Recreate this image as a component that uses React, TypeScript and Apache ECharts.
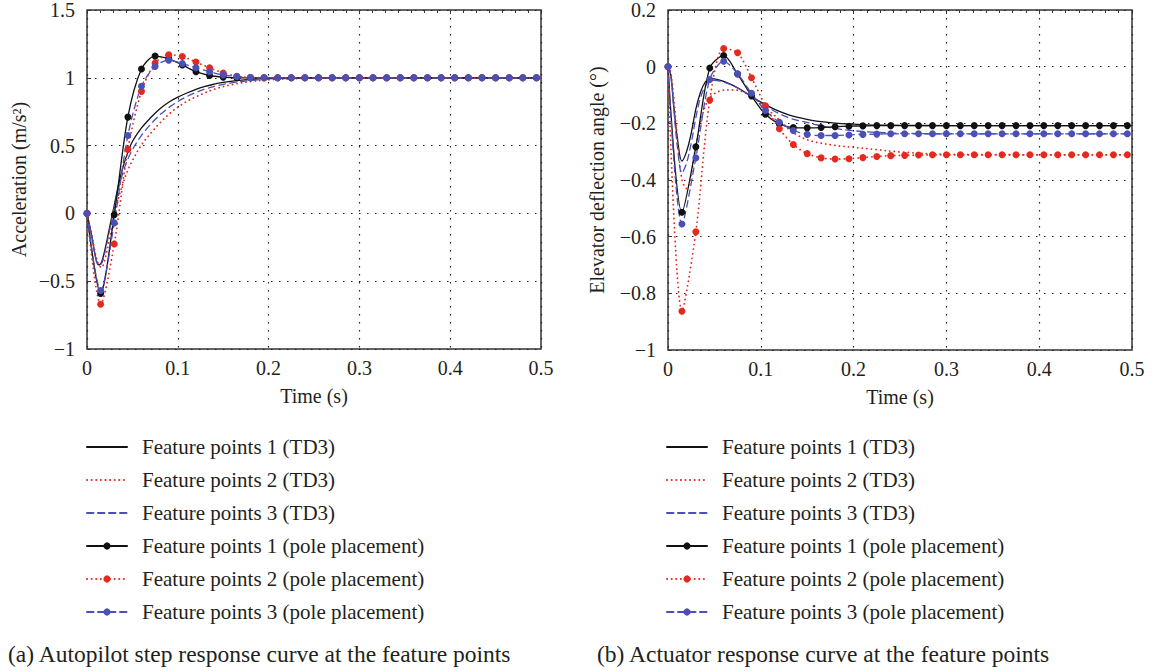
import React, { useEffect, useRef } from "react";
import * as echarts from "echarts";

// ---------- data ----------
const LEGEND_NAMES = [
  "Feature points 1 (TD3)",
  "Feature points 2 (TD3)",
  "Feature points 3 (TD3)",
  "Feature points 1 (pole placement)",
  "Feature points 2 (pole placement)",
  "Feature points 3 (pole placement)",
];

// marker sample times (s)
const T_MARK = [
  0, 0.015, 0.03, 0.045, 0.06, 0.075, 0.09, 0.105, 0.12, 0.135, 0.15, 0.165,
  0.18, 0.195, 0.21, 0.225, 0.24, 0.255, 0.27, 0.285, 0.3, 0.315, 0.33, 0.345,
  0.36, 0.375, 0.39, 0.405, 0.42, 0.435, 0.45, 0.465, 0.48, 0.495,
];

// (a) acceleration, pole placement
const ACC_POLE_1 = [
  0, -0.59, -0.01, 0.71, 1.065, 1.16, 1.14, 1.095, 1.045, 1.017, 1.005, 1.0,
  1, 1, 1, 1, 1, 1, 1, 1, 1, 1, 1, 1, 1, 1, 1, 1, 1, 1, 1, 1, 1, 1,
];
const ACC_POLE_2 = [
  0, -0.67, -0.225, 0.472, 0.9, 1.108, 1.169, 1.157, 1.116, 1.074, 1.036, 1.012,
  1.002, 1, 1, 1, 1, 1, 1, 1, 1, 1, 1, 1, 1, 1, 1, 1, 1, 1, 1, 1, 1, 1,
];
const ACC_POLE_3 = [
  0, -0.569, -0.07, 0.574, 0.937, 1.084, 1.13, 1.105, 1.074, 1.045, 1.021, 1.01,
  1.002, 1, 1, 1, 1, 1, 1, 1, 1, 1, 1, 1, 1, 1, 1, 1, 1, 1, 1, 1, 1, 1,
];

// (a) acceleration, TD3
const T_ACC = [
  0, 0.005, 0.01, 0.013, 0.016, 0.02, 0.025, 0.03, 0.035, 0.04, 0.045, 0.05,
  0.06, 0.07, 0.08, 0.09, 0.1, 0.11, 0.12, 0.13, 0.14, 0.15, 0.16, 0.18, 0.2,
  0.22, 0.25, 0.3, 0.4, 0.5,
];
const ACC_TD3_1 = [
  0, -0.16, -0.34, -0.38, -0.36, -0.26, -0.1, 0.06, 0.22, 0.35, 0.45, 0.53,
  0.63, 0.705, 0.77, 0.82, 0.857, 0.888, 0.915, 0.937, 0.953, 0.966, 0.976,
  0.988, 0.994, 0.997, 1, 1, 1, 1,
];
const ACC_TD3_2 = [
  0, -0.15, -0.32, -0.38, -0.4, -0.33, -0.18, -0.02, 0.12, 0.23, 0.32, 0.39,
  0.505, 0.59, 0.665, 0.73, 0.783, 0.826, 0.86, 0.89, 0.915, 0.935, 0.95,
  0.972, 0.985, 0.992, 0.998, 1, 1, 1,
];
const ACC_TD3_3 = [
  0, -0.16, -0.34, -0.38, -0.37, -0.28, -0.12, 0.04, 0.19, 0.31, 0.4, 0.47,
  0.575, 0.657, 0.725, 0.78, 0.825, 0.862, 0.892, 0.917, 0.936, 0.952, 0.964,
  0.98, 0.99, 0.995, 0.999, 1, 1, 1,
];

// (b) elevator deflection angle, pole placement
const ANG_POLE_1 = [
  0, -0.514, -0.283, -0.005, 0.039, -0.026, -0.103, -0.168, -0.202, -0.215,
  -0.216, -0.215, -0.212, -0.21, -0.209, -0.208, -0.208, -0.208, -0.208,
  -0.208, -0.208, -0.208, -0.208, -0.208, -0.208, -0.208, -0.208, -0.208,
  -0.208, -0.208, -0.208, -0.208, -0.208, -0.208,
];
const ANG_POLE_2 = [
  0, -0.863, -0.583, -0.118, 0.064, 0.049, -0.039, -0.138, -0.219, -0.275,
  -0.307, -0.322, -0.326, -0.325, -0.321, -0.317, -0.314, -0.313, -0.312,
  -0.311, -0.311, -0.311, -0.311, -0.311, -0.311, -0.311, -0.311, -0.311,
  -0.311, -0.311, -0.311, -0.311, -0.311, -0.311,
];
const ANG_POLE_3 = [
  0, -0.555, -0.322, -0.045, 0.019, -0.025, -0.094, -0.155, -0.196, -0.225,
  -0.239, -0.243, -0.243, -0.241, -0.239, -0.238, -0.237, -0.237, -0.237,
  -0.237, -0.237, -0.237, -0.237, -0.237, -0.237, -0.237, -0.237, -0.237,
  -0.237, -0.237, -0.237, -0.237, -0.237, -0.237,
];

// (b) elevator deflection angle, TD3
const T_ANG = [
  0, 0.003, 0.0065, 0.01, 0.015, 0.02, 0.025, 0.03, 0.035, 0.04, 0.045, 0.05,
  0.06, 0.07, 0.08, 0.09, 0.1, 0.11, 0.12, 0.13, 0.14, 0.15, 0.16, 0.18, 0.2,
  0.22, 0.25, 0.3, 0.4, 0.5,
];
const ANG_TD3_1 = [
  0, -0.03, -0.148, -0.25, -0.333, -0.3, -0.235, -0.15, -0.09, -0.055, -0.042,
  -0.043, -0.052, -0.066, -0.084, -0.105, -0.125, -0.143, -0.158, -0.17,
  -0.179, -0.186, -0.192, -0.199, -0.203, -0.206, -0.207, -0.208, -0.208,
  -0.208,
];
const ANG_TD3_2 = [
  0, -0.02, -0.12, -0.25, -0.4, -0.43, -0.38, -0.28, -0.2, -0.14, -0.11,
  -0.095, -0.083, -0.082, -0.088, -0.105, -0.13, -0.158, -0.188, -0.22,
  -0.243, -0.258, -0.267, -0.278, -0.285, -0.291, -0.301, -0.309, -0.311,
  -0.311,
];
const ANG_TD3_3 = [
  0, -0.03, -0.16, -0.28, -0.375, -0.34, -0.27, -0.18, -0.11, -0.07, -0.05,
  -0.048, -0.055, -0.067, -0.085, -0.105, -0.127, -0.148, -0.166, -0.18, -0.19,
  -0.197, -0.205, -0.218, -0.226, -0.231, -0.235, -0.237, -0.237, -0.237,
];

// ---------- styles ----------
const FONT = '"Liberation Serif", "Times New Roman", serif';
const TXT = "#231f20";
const BLACK = "#111111";
const RED = "#e42a1e";
const BLUE = "#4a50b8";
const FS_AXIS = 20;
const FS_LEG = 21;
const FS_CAP = 23.5;

const pairs = (t: number[], v: number[]) => t.map((x, i) => [x, v[i]]);
const fmt = (v: number) => {
  const r = Math.round(v * 10) / 10;
  return r < 0 ? "\u2212" + String(Math.abs(r)) : String(r);
};

export default function App() {
  const ref = useRef<HTMLDivElement>(null);

  useEffect(() => {
    document.body.style.margin = "0";
    if (!ref.current) return;
    const chart = echarts.init(ref.current, undefined, { renderer: "svg" });

    const styles = [
      { color: BLACK, type: "solid", width: 1.3 },
      { color: RED, type: [0.1, 4.5], width: 1.8 },
      { color: BLUE, type: [6.5, 4.5], width: 1.3 },
    ];

    const mkSeries = (
      xi: number,
      yi: number,
      td3: number[][][],
      pole: number[][][]
    ) => {
      const out: any[] = [];
      td3.forEach((d, k) => {
        out.push({
          type: "line",
          name: LEGEND_NAMES[k],
          xAxisIndex: xi,
          yAxisIndex: yi,
          data: d,
          smooth: 0.35,
          showSymbol: false,
          symbol: "none",
          lineStyle: { ...styles[k], cap: "round" },
          itemStyle: { color: styles[k].color },
          z: 2,
        });
      });
      pole.forEach((d, k) => {
        out.push({
          type: "line",
          name: LEGEND_NAMES[3 + k],
          xAxisIndex: xi,
          yAxisIndex: yi,
          data: d,
          smooth: 0.3,
          symbol: "circle",
          symbolSize: 7,
          showSymbol: true,
          lineStyle: { ...styles[k], cap: "round" },
          itemStyle: { color: styles[k].color },
          z: 3,
        });
      });
      return out;
    };

    const gridLine = { type: [1.5, 6.5], color: "#222", width: 1.2 };

    const xAxisBase = (gi: number) => ({
      type: "value",
      gridIndex: gi,
      min: 0,
      max: 0.5,
      interval: 0.1,
      name: "Time (s)",
      nameLocation: "middle",
      nameGap: 37,
      nameTextStyle: { fontFamily: FONT, fontSize: FS_AXIS, color: TXT },
      axisLine: { show: false },
      axisTick: { show: false },
      axisLabel: {
        fontFamily: FONT,
        fontSize: FS_AXIS,
        color: TXT,
        margin: 9,
        formatter: (v: number) => fmt(v),
      },
      splitLine: { show: true, lineStyle: gridLine },
    });
    const xAxisTop = (gi: number) => ({
      type: "value",
      gridIndex: gi,
      position: "top",
      min: 0,
      max: 0.5,
      interval: 0.1,
      axisLine: { show: false },
      axisTick: { show: true, inside: true, length: 4, lineStyle: { color: "#333" } },
      minorTick: { show: true, splitNumber: 7, length: 3, lineStyle: { color: "#333" } },
      axisLabel: { show: false },
      splitLine: { show: false },
    });
    const yAxisBase = (
      gi: number,
      min: number,
      max: number,
      step: number,
      name: string,
      gap: number
    ) => ({
      type: "value",
      gridIndex: gi,
      min,
      max,
      interval: step,
      name,
      nameLocation: "middle",
      nameGap: gap,
      nameTextStyle: { fontFamily: FONT, fontSize: FS_AXIS, color: TXT },
      axisLine: { show: false },
      axisTick: { show: true, inside: true, length: 4, lineStyle: { color: "#333" } },
      axisLabel: {
        fontFamily: FONT,
        fontSize: FS_AXIS,
        color: TXT,
        margin: 12,
        formatter: (v: number) => fmt(v),
      },
      splitLine: { show: true, lineStyle: gridLine },
    });

    const legendData = LEGEND_NAMES.map((n, i) =>
      i < 3 ? { name: n, itemStyle: { opacity: 0 } } : { name: n }
    );
    const legendBase = (left: number) => ({
      orient: "vertical",
      left,
      top: 436,
      padding: 0,
      itemWidth: 40,
      itemHeight: 9,
      itemGap: 11,
      data: legendData,
      selectedMode: false,
      textStyle: {
        fontFamily: FONT,
        fontSize: FS_LEG,
        color: TXT,
        lineHeight: 22,
        padding: [0, 0, 0, 10],
      },
    });

    chart.setOption({
      animation: false,
      backgroundColor: "#ffffff",
      grid: [
        { left: 87, top: 5, width: 454, height: 344, show: true, borderColor: "#333", borderWidth: 1.5, backgroundColor: "transparent" },
        { left: 668, top: 7, width: 464, height: 343, show: true, borderColor: "#333", borderWidth: 1.5, backgroundColor: "transparent" },
      ],
      xAxis: [xAxisBase(0), xAxisBase(1), xAxisTop(0), xAxisTop(1)],
      yAxis: [
        yAxisBase(0, -1, 1.5, 0.5, "Acceleration (m/s\u00b2)", 58),
        yAxisBase(1, -1, 0.2, 0.2, "Elevator deflection angle (\u00b0)", 61),
      ],
      legend: [legendBase(86), legendBase(666)],
      series: [
        ...mkSeries(
          0,
          0,
          [pairs(T_ACC, ACC_TD3_1), pairs(T_ACC, ACC_TD3_2), pairs(T_ACC, ACC_TD3_3)],
          [pairs(T_MARK, ACC_POLE_1), pairs(T_MARK, ACC_POLE_2), pairs(T_MARK, ACC_POLE_3)]
        ),
        ...mkSeries(
          1,
          1,
          [pairs(T_ANG, ANG_TD3_1), pairs(T_ANG, ANG_TD3_2), pairs(T_ANG, ANG_TD3_3)],
          [pairs(T_MARK, ANG_POLE_1), pairs(T_MARK, ANG_POLE_2), pairs(T_MARK, ANG_POLE_3)]
        ),
      ],
      graphic: [
        {
          type: "text",
          left: 8,
          top: 642,
          style: {
            text: "(a) Autopilot step response curve at the feature points",
            font: `${FS_CAP}px ${FONT}`,
            fill: TXT,
          },
        },
        {
          type: "text",
          left: 597,
          top: 642,
          style: {
            text: "(b) Actuator response curve at the feature points",
            font: `${FS_CAP}px ${FONT}`,
            fill: TXT,
          },
        },
      ],
    });

    return () => chart.dispose();
  }, []);

  return <div ref={ref} style={{ width: 1153, height: 671 }} />;
}
